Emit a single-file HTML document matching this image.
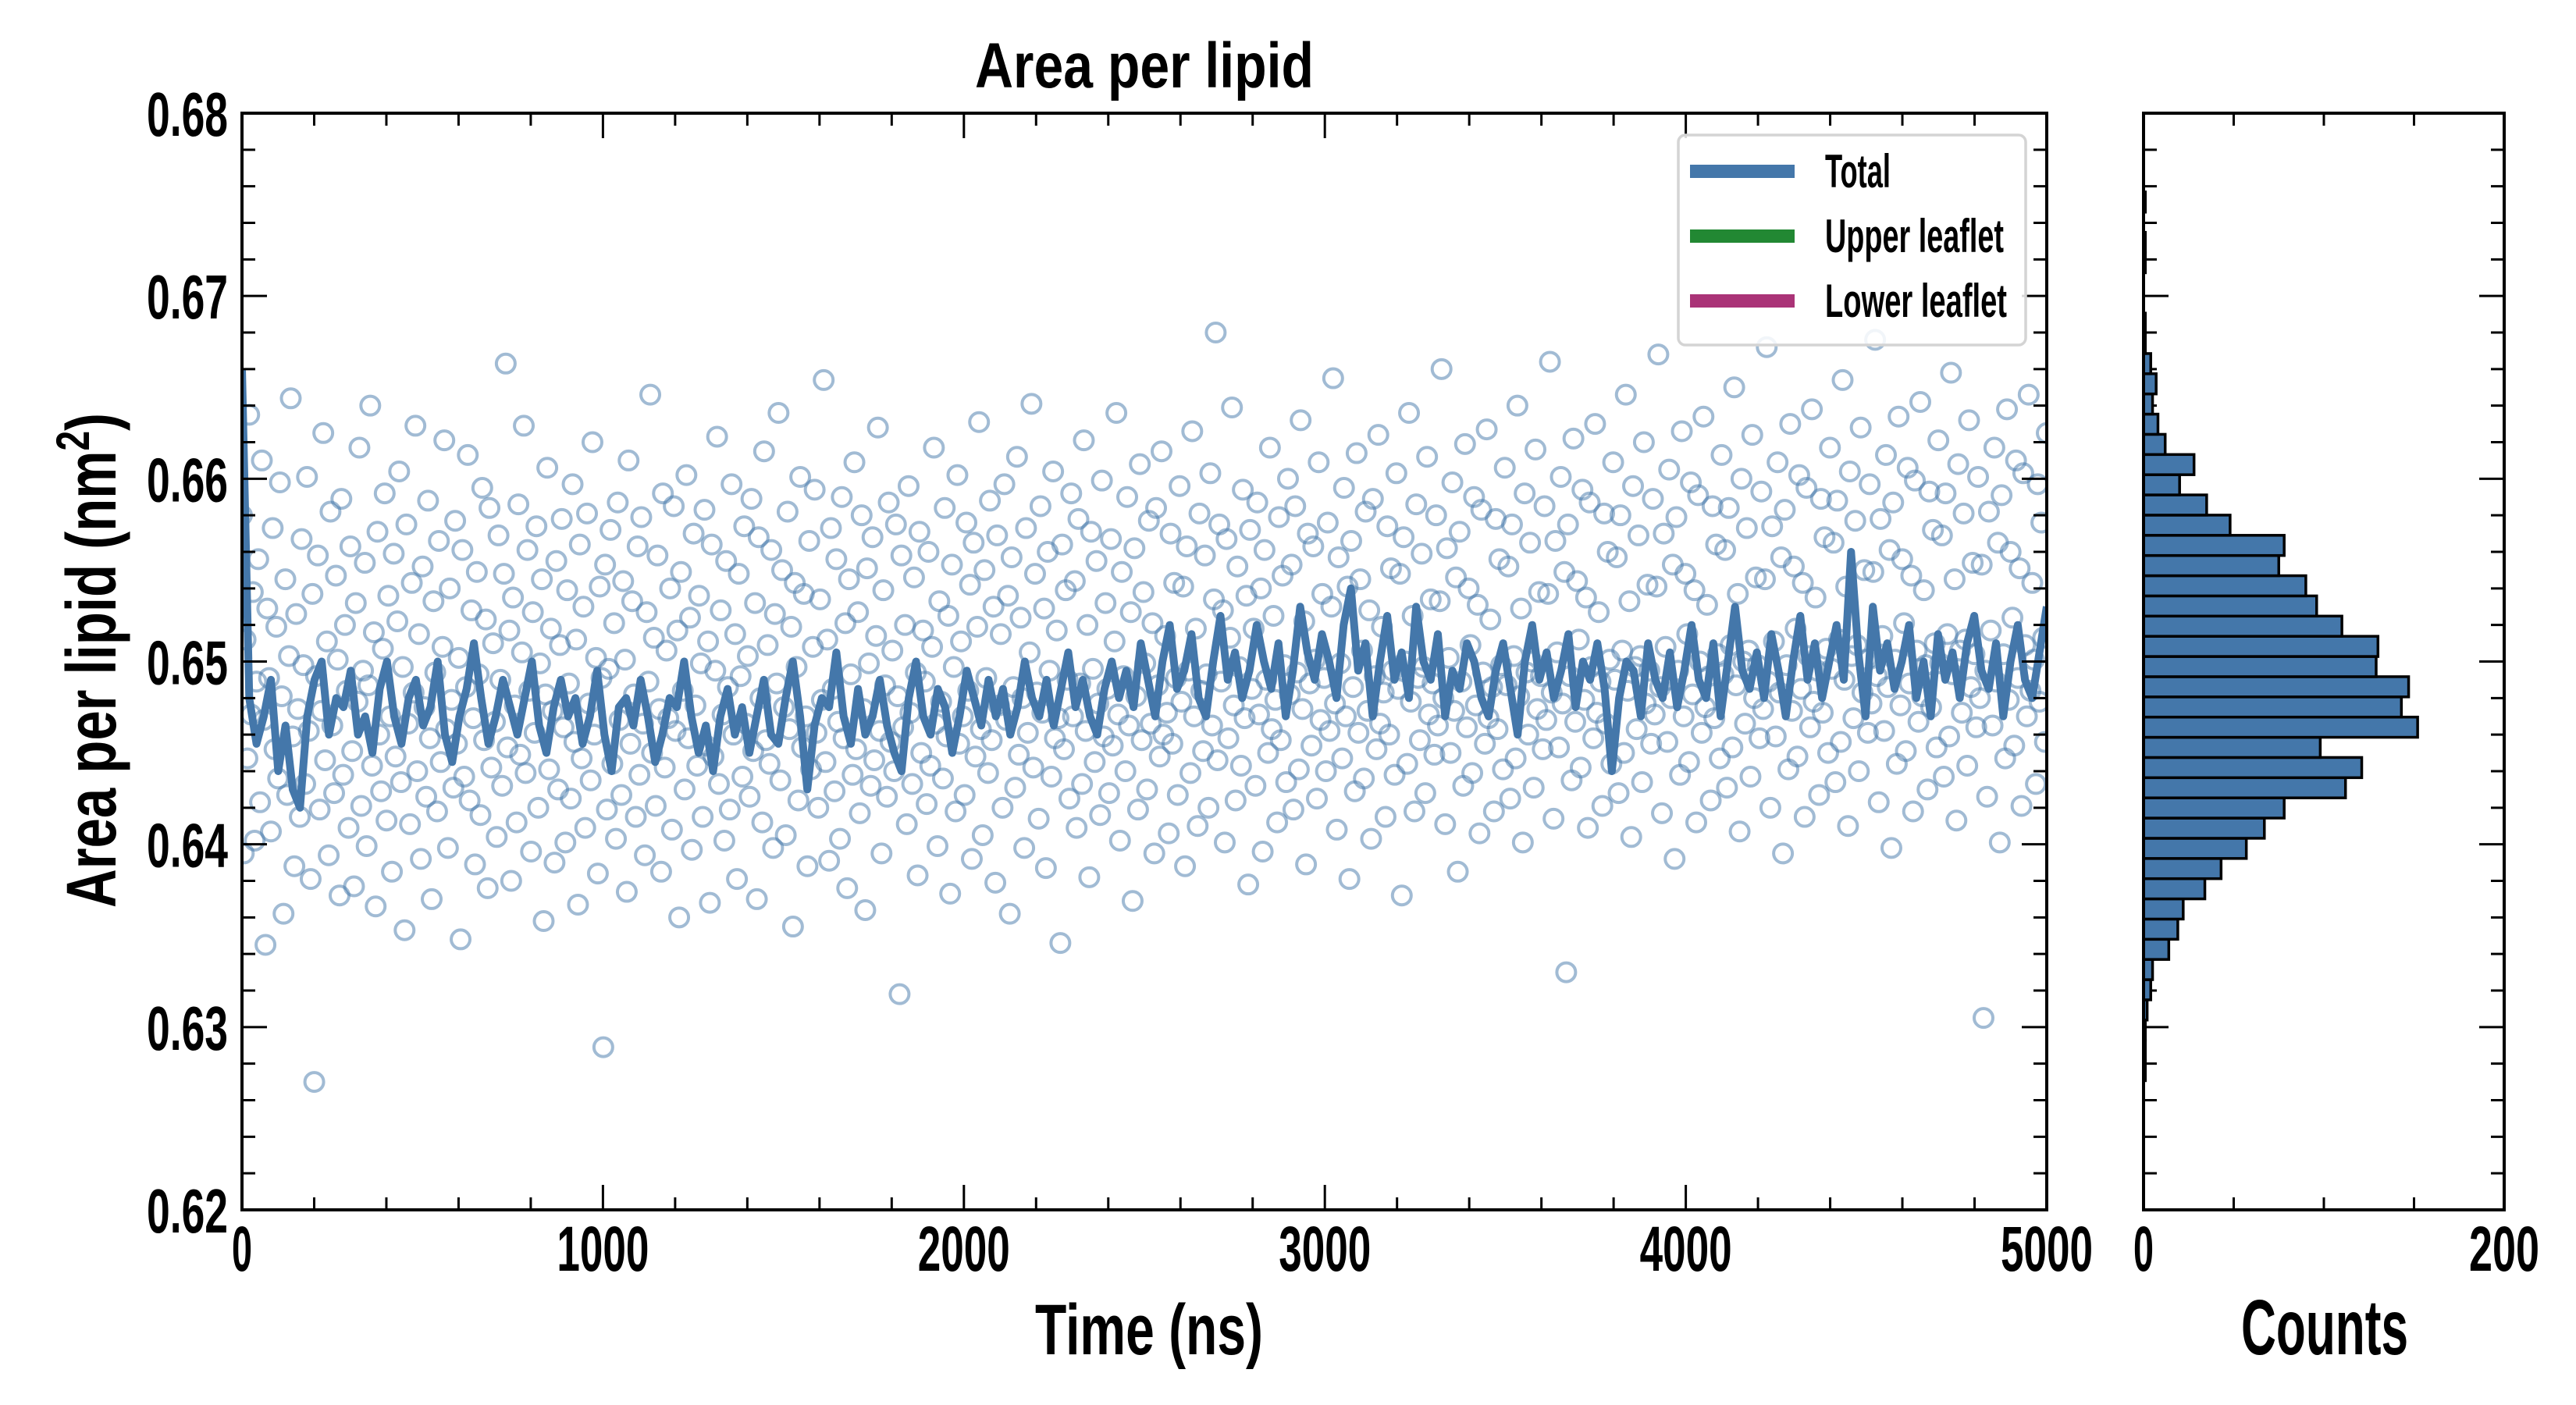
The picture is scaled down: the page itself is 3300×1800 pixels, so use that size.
<!DOCTYPE html>
<html><head><meta charset="utf-8"><style>
html,body{margin:0;padding:0;background:#fff;}
svg{display:block;}
text{font-family:"Liberation Sans Narrow","Liberation Sans",sans-serif;font-weight:bold;fill:#000;}
</style></head><body>
<svg id="chart" width="3300" height="1800" viewBox="0 0 3300 1800">
<rect width="3300" height="1800" fill="#fff"/>
<g id="main-plot"></g>
<g id="hist-plot"></g>
<text x="1466" y="112" text-anchor="middle" font-size="82" textLength="434" lengthAdjust="spacingAndGlyphs">Area per lipid</text>
<text x="1472" y="1735" text-anchor="middle" font-size="92" textLength="292" lengthAdjust="spacingAndGlyphs">Time (ns)</text>
<text x="2978" y="1735" text-anchor="middle" font-size="100" textLength="214" lengthAdjust="spacingAndGlyphs">Counts</text>
<text transform="translate(148,846) rotate(-90)" text-anchor="middle" font-size="90" textLength="634" lengthAdjust="spacingAndGlyphs">Area per lipid (nm<tspan font-size="60" dy="-34">2</tspan><tspan dy="34">)</tspan></text>
</svg>
<script>
const yTicks = [0.62,0.63,0.64,0.65,0.66,0.67,0.68];
const yTickLabels = ["0.62","0.63","0.64","0.65","0.66","0.67","0.68"];
const xTicks = [0,1000,2000,3000,4000,5000];
const xTickLabels = ["0","1000","2000","3000","4000","5000"];
const histXTicks = [0,200];
const histXTickLabels = ["0","200"];
const legendLabels = ["Total","Upper leaflet","Lower leaflet"];
const legendColors = ["#4477aa","#228833","#aa3377"];
const histBinStart = 0.62707;
const histBinWidth = 0.001105;
const histCounts = [1,1,1,2,4,5,14,19,22,34,43,57,67,78,112,121,98,152,143,147,129,130,110,96,90,75,78,48,35,20,28,12,8,5,7,4,1,1,0,0,1,1,0,1,0];
const lineValues = [6660,6480,6455,6470,6490,6440,6465,6430,6420,6470,
6490,6500,6460,6480,6475,6495,6460,6470,6450,6485,
6500,6470,6455,6480,6490,6465,6475,6500,6460,6445,
6470,6485,6510,6480,6455,6470,6490,6475,6460,6480,
6500,6465,6450,6475,6490,6470,6480,6455,6470,6495,
6460,6440,6475,6480,6465,6490,6470,6445,6460,6480,
6475,6500,6470,6450,6465,6440,6470,6485,6460,6475,
6450,6470,6490,6460,6455,6480,6500,6470,6430,6465,
6480,6475,6505,6470,6455,6485,6460,6470,6490,6465,
6450,6440,6480,6500,6470,6460,6485,6475,6450,6470,
6495,6480,6465,6490,6470,6485,6460,6475,6500,6480,
6470,6490,6465,6485,6505,6475,6490,6470,6460,6485,
6500,6480,6495,6475,6510,6490,6470,6500,6520,6485,
6495,6515,6480,6470,6500,6525,6490,6505,6480,6495,
6520,6500,6485,6510,6470,6495,6530,6505,6490,6515,
6500,6480,6520,6540,6495,6510,6470,6500,6525,6490,
6505,6480,6530,6500,6490,6515,6470,6495,6485,6510,
6500,6480,6470,6495,6510,6485,6460,6500,6520,6490,
6505,6480,6495,6515,6475,6500,6490,6510,6485,6440,
6480,6500,6495,6470,6510,6490,6480,6505,6475,6495,
6520,6490,6480,6510,6470,6500,6530,6495,6485,6505,
6480,6515,6495,6470,6500,6525,6490,6510,6480,6500,
6520,6490,6560,6505,6470,6530,6495,6510,6485,6500,
6520,6480,6500,6470,6515,6490,6505,6480,6510,6525,
6495,6485,6510,6470,6500,6520,6490,6480,6505,6530];
const scatterValues = [6580,6395,6512,6447,6635,6471,6538,6402,6489,6556,6423,6610,6468,6345,6529,6491,6407,6573,6452,6519,
6436,6598,6481,6362,6545,6427,6503,6644,6459,6388,6526,6474,6415,6567,6498,6433,6601,6462,6381,6537,
6270,6492,6558,6419,6473,6625,6446,6511,6394,6582,6465,6428,6547,6501,6372,6589,6438,6520,6484,6409,
6563,6451,6377,6532,6478,6617,6421,6495,6554,6399,6487,6640,6443,6516,6366,6571,6460,6429,6507,6592,
6413,6536,6470,6385,6559,6448,6522,6604,6434,6497,6353,6575,6466,6411,6543,6483,6629,6440,6515,6392,
6552,6475,6426,6588,6458,6370,6533,6494,6418,6566,6445,6508,6621,6463,6398,6540,6479,6431,6577,6455,
6502,6348,6561,6437,6486,6613,6424,6528,6469,6389,6549,6493,6416,6595,6457,6523,6376,6584,6442,6510,
6467,6404,6569,6490,6432,6548,6663,6453,6517,6380,6535,6476,6412,6586,6449,6505,6629,6439,6561,6484,
6396,6527,6461,6574,6420,6499,6545,6358,6482,6606,6441,6518,6473,6390,6555,6430,6509,6578,6464,6401,
6539,6488,6425,6597,6456,6512,6367,6564,6447,6530,6409,6581,6477,6435,6620,6460,6502,6384,6541,6491,
6289,6553,6419,6496,6572,6444,6521,6403,6587,6468,6427,6544,6501,6374,6610,6455,6533,6482,6415,6563,
6438,6579,6466,6394,6527,6489,6646,6450,6513,6421,6558,6474,6385,6592,6442,6506,6469,6540,6408,6585,
6462,6517,6360,6549,6484,6430,6602,6458,6524,6397,6570,6476,6443,6536,6499,6415,6583,6454,6511,6368,
6564,6448,6495,6623,6433,6528,6471,6402,6555,6486,6419,6597,6460,6515,6381,6548,6492,6437,6574,6466,
6503,6426,6589,6451,6532,6370,6568,6480,6412,6615,6457,6509,6444,6561,6398,6526,6488,6636,6435,6550,
6475,6405,6582,6463,6519,6355,6543,6497,6424,6601,6453,6537,6470,6388,6566,6441,6508,6594,6461,6420,
6534,6479,6654,6445,6512,6391,6573,6485,6429,6556,6467,6403,6590,6458,6521,6376,6545,6493,6438,6609,
6452,6527,6417,6580,6474,6364,6551,6499,6432,6568,6446,6514,6628,6462,6395,6539,6487,6426,6587,6456,
6506,6440,6575,6481,6318,6558,6464,6520,6411,6596,6472,6433,6546,6494,6383,6571,6450,6517,6489,6422,
6560,6443,6508,6617,6466,6399,6533,6478,6436,6584,6459,6525,6373,6553,6497,6418,6602,6455,6511,6470,
6427,6576,6484,6542,6392,6565,6448,6519,6631,6463,6405,6550,6491,6439,6588,6457,6530,6379,6569,6476,
6515,6420,6597,6468,6536,6362,6557,6486,6431,6612,6449,6524,6480,6398,6573,6461,6505,6641,6442,6548,
6483,6414,6585,6472,6529,6387,6560,6495,6437,6604,6458,6517,6469,6346,6564,6452,6539,6490,6425,6592,
6470,6544,6409,6578,6488,6433,6621,6462,6520,6382,6571,6496,6445,6555,6477,6416,6599,6459,6532,6485,
6428,6567,6454,6511,6636,6471,6402,6549,6492,6440,6590,6465,6527,6369,6562,6481,6419,6608,6457,6538,
6499,6430,6577,6466,6521,6395,6584,6487,6448,6615,6460,6514,6472,6406,6570,6455,6543,6491,6427,6596,
6478,6541,6388,6563,6495,6439,6626,6470,6518,6410,6581,6484,6451,6558,6493,6420,6603,6465,6534,6680,
6446,6575,6489,6528,6401,6567,6458,6513,6639,6476,6424,6552,6497,6443,6594,6469,6536,6378,6572,6485,
6518,6432,6587,6471,6540,6396,6561,6490,6450,6617,6463,6525,6479,6412,6579,6457,6547,6498,6434,6600,
6482,6553,6419,6585,6494,6441,6632,6474,6522,6389,6570,6488,6454,6563,6501,6425,6609,6468,6537,6491,
6440,6576,6462,6530,6655,6477,6408,6557,6499,6447,6595,6470,6541,6381,6566,6486,6429,6614,6461,6545,
6506,6436,6582,6473,6528,6403,6589,6492,6452,6624,6466,6519,6483,6415,6574,6460,6551,6495,6438,6603,
6485,6548,6372,6568,6500,6444,6636,6478,6525,6418,6586,6491,6457,6559,6497,6428,6612,6471,6534,6488,
6449,6580,6465,6533,6660,6480,6411,6562,6502,6450,6598,6473,6546,6385,6571,6489,6432,6619,6464,6540,
6509,6439,6590,6476,6531,6406,6583,6494,6455,6627,6469,6523,6486,6418,6578,6463,6556,6498,6441,6606,
6487,6552,6425,6575,6503,6447,6640,6481,6529,6401,6592,6494,6460,6565,6500,6431,6616,6474,6538,6492,
6452,6585,6468,6537,6664,6483,6414,6566,6505,6453,6601,6477,6549,6330,6575,6492,6435,6622,6467,6544,
6512,6442,6594,6479,6535,6409,6587,6497,6458,6630,6472,6527,6489,6421,6581,6466,6560,6501,6444,6609,
6490,6557,6428,6580,6506,6450,6646,6484,6533,6404,6596,6497,6463,6569,6503,6434,6620,6477,6542,6495,
6455,6589,6471,6541,6668,6486,6417,6570,6508,6456,6605,6480,6553,6392,6579,6495,6438,6626,6470,6548,
6515,6445,6598,6482,6539,6412,6591,6500,6461,6634,6475,6531,6492,6424,6585,6469,6564,6504,6447,6613,
6493,6561,6431,6584,6509,6453,6650,6487,6537,6407,6600,6500,6466,6573,6506,6437,6624,6480,6546,6498,
6458,6593,6474,6545,6672,6489,6420,6574,6511,6459,6609,6483,6557,6395,6583,6498,6441,6630,6473,6552,
6518,6448,6602,6485,6543,6415,6595,6503,6464,6638,6478,6535,6495,6427,6589,6472,6568,6507,6450,6617,
6496,6565,6434,6588,6512,6456,6654,6490,6541,6410,6604,6503,6469,6577,6509,6440,6628,6483,6550,6501,
6461,6597,6477,6549,6676,6492,6423,6578,6514,6462,6613,6486,6561,6398,6587,6501,6444,6634,6476,6556,
6521,6451,6606,6488,6547,6418,6599,6506,6467,6642,6481,6539,6498,6430,6593,6475,6572,6510,6453,6621,
6499,6569,6437,6592,6515,6459,6658,6493,6545,6413,6608,6506,6472,6581,6512,6443,6632,6486,6554,6504,
6464,6601,6480,6553,6305,6495,6426,6582,6517,6465,6617,6489,6565,6401,6591,6504,6447,6638,6479,6560,
6524,6454,6610,6491,6551,6421,6603,6509,6470,6646,6484,6543,6501,6433,6597,6478,6576,6513,6456,6625];

const svgNS = "http://www.w3.org/2000/svg";
const M = {x0:310, x1:2622, y0:145, y1:1550};
const H = {x0:2746, x1:3208};
const yMin = 0.62, yMax = 0.68, xMin = 0, xMax = 5000, cMax = 200;
const yScale = v => M.y1 - (v - yMin) / (yMax - yMin) * (M.y1 - M.y0);
const xScale = t => M.x0 + (t - xMin) / (xMax - xMin) * (M.x1 - M.x0);
const cScale = c => H.x0 + c / cMax * (H.x1 - H.x0);
const main = document.getElementById('main-plot');
const hist = document.getElementById('hist-plot');
function mk(tag, attrs, parent){const e=document.createElementNS(svgNS,tag);for(const k in attrs)e.setAttribute(k,attrs[k]);parent.appendChild(e);return e;}

const defs = mk('defs',{},document.getElementById('chart'));
const cp = mk('clipPath',{id:'mainclip'},defs);
mk('rect',{x:M.x0,y:M.y0,width:M.x1-M.x0,height:M.y1-M.y0},cp);

const sg = mk('g',{'clip-path':'url(#mainclip)'},main);


const nS = scatterValues.length;
scatterValues.forEach((v,i)=>{
  const t = i*(xMax-xMin)/(nS-1);
  const c = mk('circle',{cx:xScale(t),cy:yScale(v/10000),r:12,fill:'none',stroke:'rgba(68,119,170,0.5)','stroke-width':4},sg);
  
  
});

const nL = lineValues.length;
const pts = lineValues.map((v,i)=>xScale(i*(xMax-xMin)/(nL-1)).toFixed(1)+','+yScale(v/10000).toFixed(1)).join(' ');
const pl = mk('polyline',{points:pts,fill:'none',stroke:'#4477aa','stroke-width':10,'stroke-linejoin':'round','clip-path':'url(#mainclip)'},main);



histCounts.forEach((c,i)=>{
  if(c<=0) return;
  const lo = histBinStart + i*histBinWidth, hi = lo + histBinWidth;
  const r = mk('rect',{x:H.x0,y:yScale(hi),width:cScale(c)-H.x0,height:yScale(lo)-yScale(hi),fill:'#4477aa',stroke:'#000','stroke-width':3.5},hist);
  
  
});

function frame(g,x0,x1,name){
  const r = mk('rect',{x:x0,y:M.y0,width:x1-x0,height:M.y1-M.y0,fill:'none',stroke:'#000','stroke-width':4},g);
  
  
}
frame(main,M.x0,M.x1,'main-axes-frame');
frame(hist,H.x0,H.x1,'hist-axes-frame');

function tick(g,x1,y1,x2,y2){mk('line',{x1:x1,y1:y1,x2:x2,y2:y2,stroke:'#000','stroke-width':3},g);}
const tg = mk('g',{},main);


for(let k=0;k<=30;k++){
  const v = yMin + k*0.002;
  const y = yScale(v);
  const len = (k%5===0)?32:17;
  tick(tg,M.x0,y,M.x0+len,y); tick(tg,M.x1,y,M.x1-len,y);
  tick(tg,H.x0,y,H.x0+len,y); tick(tg,H.x1,y,H.x1-len,y);
}
for(let t=0;t<=5000;t+=200){
  const x = xScale(t); const len = (t%1000===0)?32:16;
  tick(tg,x,M.y1,x,M.y1-len); tick(tg,x,M.y0,x,M.y0+len);
}
for(let c=50;c<200;c+=50){
  const x = cScale(c);
  tick(tg,x,M.y1,x,M.y1-16); tick(tg,x,M.y0,x,M.y0+16);
}

yTicks.forEach((v,i)=>{
  const t = mk('text',{x:292,y:yScale(v)+29,'text-anchor':'end','font-size':80,textLength:104,lengthAdjust:'spacingAndGlyphs'},main);
  t.textContent = yTickLabels[i];
  
  
});
xTicks.forEach((v,i)=>{
  const lab = xTickLabels[i];
  const t = mk('text',{x:xScale(v),y:1628,'text-anchor':'middle','font-size':82,textLength:(lab.length===4?118:26),lengthAdjust:'spacingAndGlyphs'},main);
  t.textContent = lab;
  
  
});
histXTicks.forEach((v,i)=>{
  const lab = histXTickLabels[i];
  const t = mk('text',{x:cScale(v),y:1628,'text-anchor':'middle','font-size':82,textLength:(lab.length===3?90:26),lengthAdjust:'spacingAndGlyphs'},hist);
  t.textContent = lab;
  
  
});

const lg = mk('g',{},main);


mk('rect',{x:2150,y:173,width:445,height:269,rx:9,fill:'rgba(255,255,255,0.85)',stroke:'#d4d4d4','stroke-width':3.5},lg);
const legW = [84,229,233];
legendLabels.forEach((lab,i)=>{
  const cy = 219 + i*83;
  const ln = mk('rect',{x:2165,y:cy-8,width:134,height:17,fill:legendColors[i]},lg);
  
  
  const t = mk('text',{x:2338,y:cy+21,'font-size':60,textLength:legW[i],lengthAdjust:'spacingAndGlyphs'},lg);
  t.textContent = lab;
  
  
});
</script>
</body></html>
